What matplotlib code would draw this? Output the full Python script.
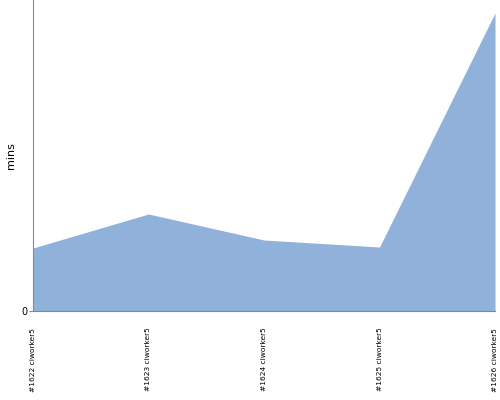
import matplotlib
matplotlib.use("Agg")
import matplotlib.pyplot as plt

labels = ["#1622 ciworker5", "#1623 ciworker5", "#1624 ciworker5",
          "#1625 ciworker5", "#1626 ciworker5"]
mins = [6.3, 9.7, 7.1, 6.4, 29.8]

fig = plt.figure(figsize=(5, 4), dpi=100)
ax = fig.add_axes([0.066, 0.2225, 0.924, 0.7775])
x = list(range(len(mins)))
ax.fill_between(x, 0, mins, color="#8fb1da", linewidth=0)
ax.set_xlim(0, len(mins) - 1)
ax.set_ylim(0, 31.1)
ax.set_yticks([0])
ax.set_yticklabels(["0"], fontsize=7)
ax.set_xticks(x)
ax.set_xticklabels(labels, rotation=90, fontsize=5.4, va="top")
ax.tick_params(axis="x", length=0, pad=12)
ax.tick_params(axis="y", length=3, color="#888888", pad=1)
ax.set_ylabel("mins", fontsize=8)
ax.yaxis.set_label_coords(-0.036, 0.5)
for s in ["top", "right"]:
    ax.spines[s].set_visible(False)
for s in ["left", "bottom"]:
    ax.spines[s].set_color("#888888")
    ax.spines[s].set_linewidth(0.8)
fig.savefig("out.png", dpi=100)
